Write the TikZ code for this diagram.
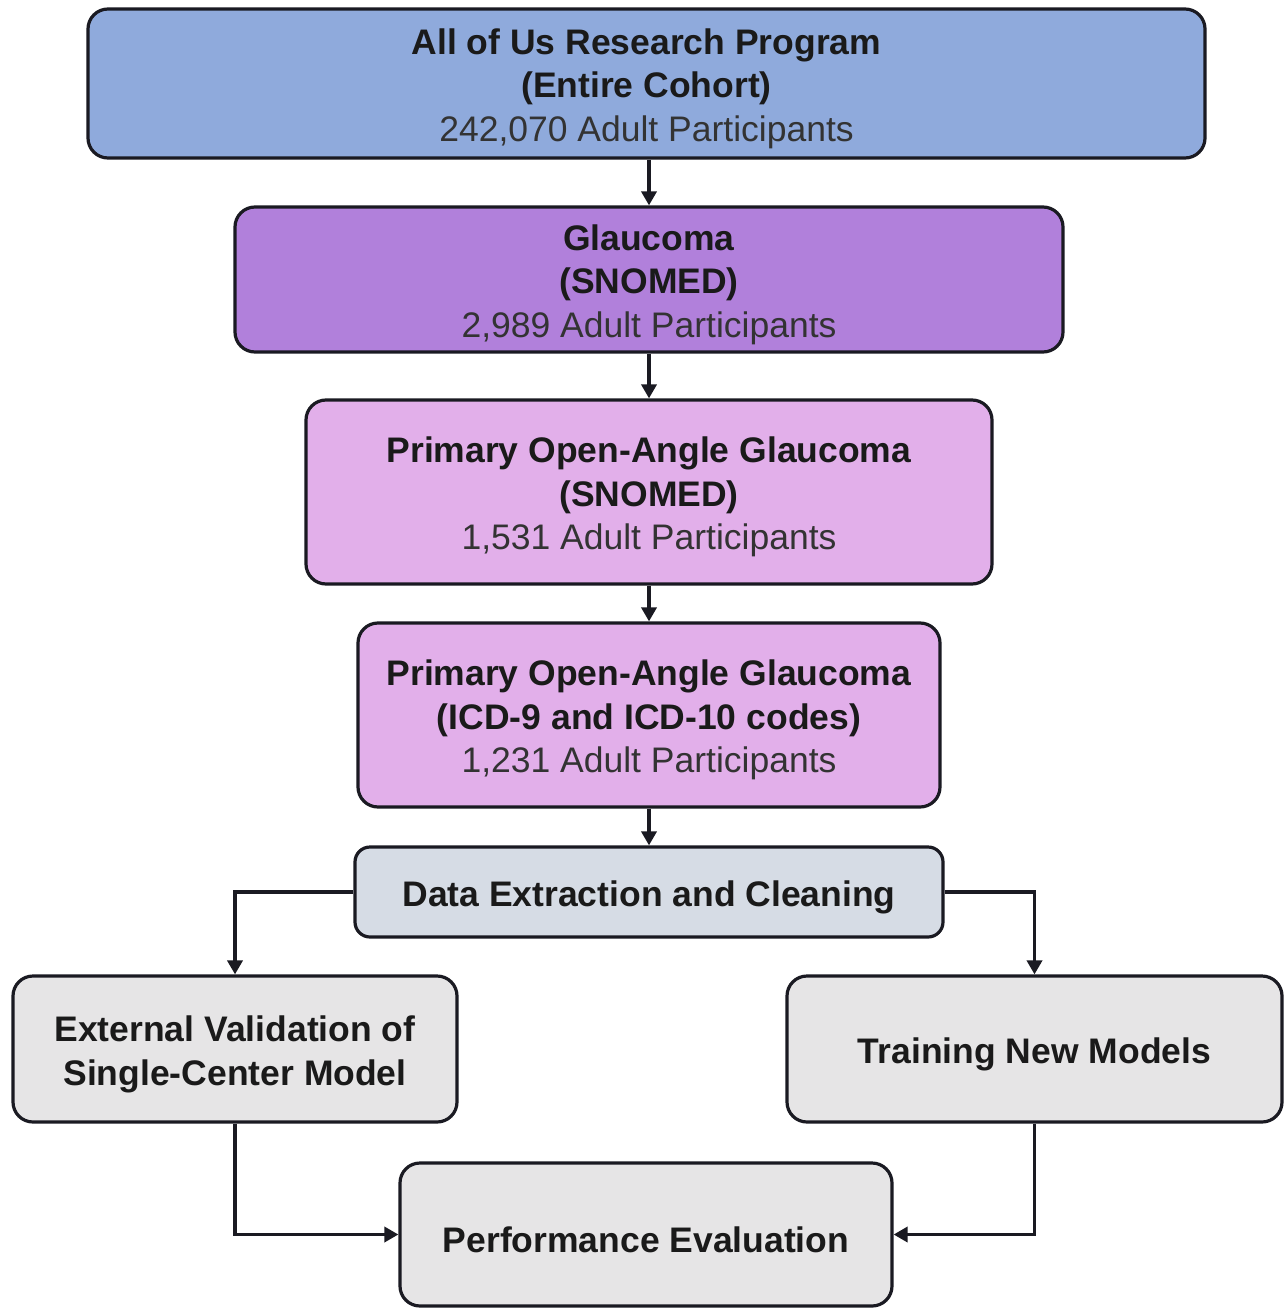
\documentclass[tikz,border=0pt]{standalone}
\usepackage{fontspec}
\setmainfont{Liberation Sans}
\usetikzlibrary{arrows.meta}
\definecolor{cblue}{HTML}{8FAADC}
\definecolor{cpurple}{HTML}{B180DB}
\definecolor{cpink}{HTML}{E2AFEA}
\definecolor{cslate}{HTML}{D6DCE5}
\definecolor{cgray}{HTML}{E6E5E6}
\definecolor{cline}{HTML}{1A1A22}
\definecolor{ctext}{HTML}{1A1A1A}
\definecolor{cnum}{HTML}{333333}
\tikzset{
  box/.style={draw=cline, line width=3.2pt, rounded corners=20pt, align=center,
    text=ctext, font=\fontsize{35.5}{43.5}\selectfont, inner sep=0pt},
  arr/.style={draw=cline, line width=3.6pt, -{Triangle[length=14pt,width=15pt]}},
}
\newcommand{\numline}[1]{\textcolor{cnum}{#1}}
\newcommand{\fs}{\rule{0pt}{36pt}}
\begin{document}
\begin{tikzpicture}[x=1pt,y=1pt]
\useasboundingbox[fill=white] (0,0) rectangle (1286,-1308);
\node[box, fill=cblue, minimum width=1117pt, minimum height=149pt] (b1) at (646.5,-83.5)
  {\fs\textbf{All of Us Research Program}\\\textbf{(Entire Cohort)}\\\numline{242,070 Adult Participants}};
\node[box, fill=cpurple, minimum width=828pt, minimum height=145pt] (b2) at (649,-279.5)
  {\fs\textbf{Glaucoma}\\\textbf{(SNOMED)}\\\numline{2,989 Adult Participants}};
\node[box, fill=cpink, minimum width=686pt, minimum height=184pt] (b3) at (649,-492)
  {\fs\textbf{Primary Open-Angle Glaucoma}\\\textbf{(SNOMED)}\\\numline{1,531 Adult Participants}};
\node[box, fill=cpink, minimum width=582pt, minimum height=184pt] (b4) at (649,-715)
  {\fs\textbf{Primary Open-Angle Glaucoma}\\\textbf{(ICD-9 and ICD-10 codes)}\\\numline{1,231 Adult Participants}};
\node[box, fill=cslate, minimum width=588pt, minimum height=90pt, rounded corners=15pt] (b5) at (649,-892)
  {\fs\textbf{Data Extraction and Cleaning}};
\node[box, fill=cgray, minimum width=444pt, minimum height=146pt] (b6) at (235,-1049)
  {\fs\textbf{External Validation of}\\\textbf{Single-Center Model}};
\node[box, fill=cgray, minimum width=495pt, minimum height=146pt] (b7) at (1034.5,-1049)
  {\fs\textbf{Training New Models}};
\node[box, fill=cgray, minimum width=492pt, minimum height=143pt] (b8) at (646,-1234.5)
  {\fs\textbf{Performance Evaluation}};
\draw[arr] (b1.south -| b2.north) -- (b2.north);
\draw[arr] (b2.south) -- (b3.north);
\draw[arr] (b3.south) -- (b4.north);
\draw[arr] (b4.south) -- (b5.north);
\draw[arr] (b5.west) -| (b6.north);
\draw[arr] (b5.east) -| (b7.north);
\draw[arr] (b6.south) |- (b8.west);
\draw[arr] (b7.south) |- (b8.east);
\end{tikzpicture}
\end{document}
